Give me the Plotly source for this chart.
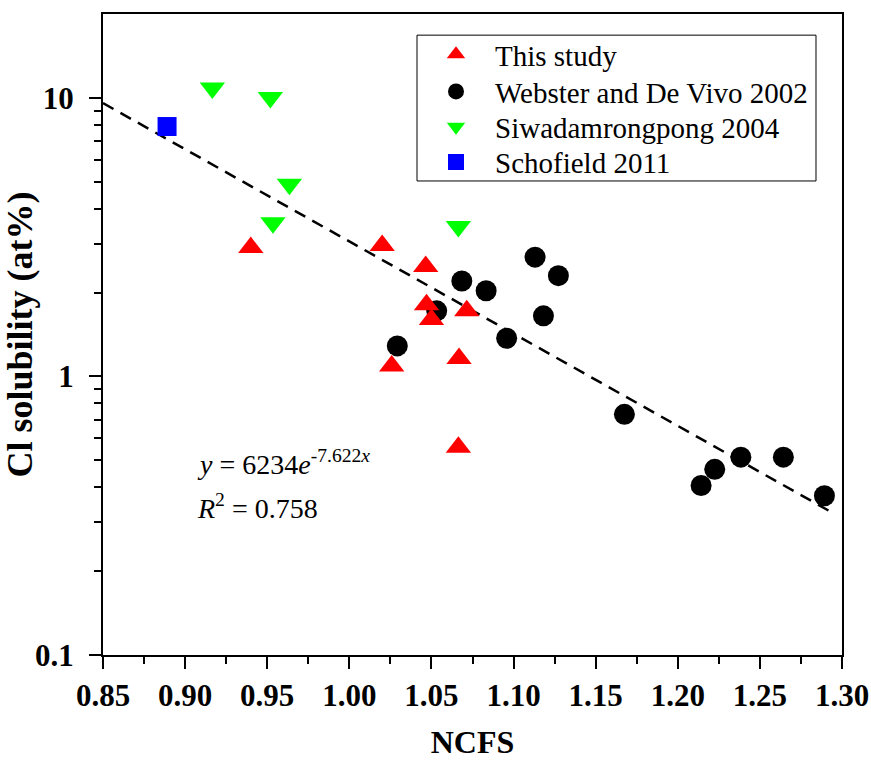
import numpy as np
import plotly.graph_objects as go

# NCFS vs Cl solubility (at%) by data source
this_study_x = [0.940, 1.020, 1.0465, 1.047, 1.050, 1.0715, 1.0258, 1.0668, 1.0664]
this_study_y = [2.90, 2.95, 2.48, 1.81, 1.60, 1.72, 1.09, 1.16, 0.557]

webster_x = [1.0292, 1.0685, 1.0833, 1.0532, 1.1131, 1.1273, 1.1182, 1.0958,
             1.1675, 1.2384, 1.2643, 1.2225, 1.2142, 1.2893]
webster_y = [1.287, 2.20, 2.03, 1.72, 2.68, 2.30, 1.65, 1.371,
             0.731, 0.513, 0.513, 0.464, 0.406, 0.373]

siwa_x = [0.9166, 0.9519, 0.9635, 0.9535, 1.0664]
siwa_y = [10.84, 10.02, 4.90, 3.56, 3.45]

schofield_x = [0.889]
schofield_y = [7.89]

# exponential fit y = a * exp(b * x)
fit_a = 6234
fit_b = -7.622
fit_r2 = 0.758
fit_x = np.linspace(0.85, 1.293, 120)
fit_y = fit_a * np.exp(fit_b * fit_x)

x_ticks = [0.85, 0.90, 0.95, 1.00, 1.05, 1.10, 1.15, 1.20, 1.25, 1.30]
x_minor = [0.875, 0.925, 0.975, 1.025, 1.075, 1.125, 1.175, 1.225, 1.275]
y_ticks = [0.1, 1, 10]
y_tick_text = ["0.1", "1", "10"]
y_minor = [0.2, 0.3, 0.4, 0.5, 0.6, 0.7, 0.8, 0.9, 2, 3, 4, 5, 6, 7, 8, 9]

serif = "Liberation Serif, Times New Roman, serif"

fig = go.Figure()

fig.add_trace(go.Scatter(
    x=fit_x, y=fit_y, mode="lines", showlegend=False, hoverinfo="skip",
    line=dict(color="black", width=2.5, dash="12px,8px"),
))
fig.add_trace(go.Scatter(
    x=webster_x, y=webster_y, mode="markers", name="Webster and De Vivo 2002",
    legend="legend2", marker=dict(symbol="circle", size=21, color="black"),
))
fig.add_trace(go.Scatter(
    x=siwa_x, y=siwa_y, mode="markers", name="Siwadamrongpong 2004",
    legend="legend3", marker=dict(symbol="triangle-down", size=22, color="#00ff00"),
))
fig.add_trace(go.Scatter(
    x=schofield_x, y=schofield_y, mode="markers", name="Schofield 2011",
    legend="legend4", marker=dict(symbol="square", size=19, color="#0000ff"),
))
fig.add_trace(go.Scatter(
    x=this_study_x, y=this_study_y, mode="markers", name="This study",
    legend="legend", marker=dict(symbol="triangle-up", size=22, color="#ff0000"),
))

tick_font = dict(family=serif, size=31, color="black", weight="bold")

fig.update_xaxes(
    range=[0.85, 1.30], tickvals=x_ticks, ticktext=[f"{v:.2f}" for v in x_ticks],
    automargin=False,
    showgrid=False, zeroline=False, showline=True, linecolor="black", linewidth=2,
    mirror=True, ticks="outside", ticklen=12, tickwidth=2, tickcolor="black",
    tickfont=tick_font, ticklabelstandoff=0,
    minor=dict(tickvals=x_minor, ticks="outside", ticklen=7, tickwidth=2,
               tickcolor="black", showgrid=False),
    title=dict(text="NCFS", font=dict(family=serif, size=32, color="black", weight="bold"),
               standoff=30),
)
fig.update_yaxes(
    type="log", range=[-1, np.log10(20)], tickvals=y_ticks, ticktext=y_tick_text,
    automargin=False,
    showgrid=False, zeroline=False, showline=True, linecolor="black", linewidth=2,
    mirror=True, ticks="outside", ticklen=12, tickwidth=2, tickcolor="black",
    tickfont=tick_font, ticklabelstandoff=9,
    minor=dict(tickvals=y_minor, ticks="outside", ticklen=7, tickwidth=2,
               tickcolor="black", showgrid=False),
    title=dict(text="Cl solubility (at%)",
               font=dict(family=serif, size=36, color="black", weight="bold"),
               standoff=4),
)

fig.add_annotation(
    xref="paper", yref="paper", x=0.1245, y=0.301, xanchor="left", yanchor="middle",
    text=f"<i>y</i> = {fit_a}<i>e</i><sup>{fit_b}<i>x</i></sup>", showarrow=False,
    font=dict(family=serif, size=28, color="black"),
)
fig.add_annotation(
    xref="paper", yref="paper", x=0.1245, y=0.231, xanchor="left", yanchor="middle",
    text=f"<i>R</i><sup>2</sup> = {fit_r2}", showarrow=False,
    font=dict(family=serif, size=28, color="black"),
)

# legend frame
fig.add_shape(
    type="rect", xref="paper", yref="paper",
    x0=0.4249, x1=0.9648, y0=0.7395, y1=0.967,
    line=dict(color="black", width=1), fillcolor="white", layer="below",
)

legend_style = dict(
    x=0.4249, xanchor="left", yanchor="middle",
    bgcolor="rgba(0,0,0,0)", borderwidth=0,
    font=dict(family=serif, size=29, color="black"),
    itemwidth=68,
)

fig.update_layout(
    width=871, height=760,
    margin=dict(l=103, r=29, t=14, b=105),
    paper_bgcolor="white", plot_bgcolor="white",
    legend=dict(y=0.937, **legend_style),
    legend2=dict(y=0.879, **legend_style),
    legend3=dict(y=0.824, **legend_style),
    legend4=dict(y=0.769, **legend_style),
)

fig.write_html("out.html")
